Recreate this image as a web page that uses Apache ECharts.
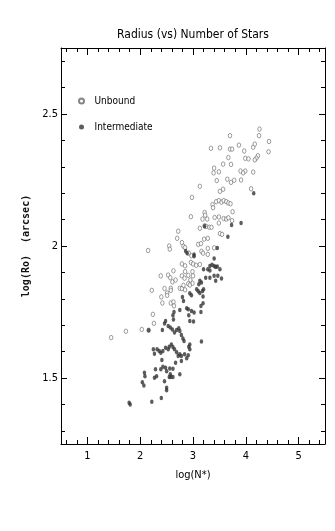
<!DOCTYPE html>
<html>
<head>
<meta charset="utf-8">
<script src="https://cdn.jsdelivr.net/npm/echarts@6/dist/echarts.min.js"></script>
<style>
  html, body { margin: 0; padding: 0; background: #fff; }
  #chart { width: 335px; height: 531px; }
</style>
</head>
<body>
<div id="chart"></div>
<script>
// log(N*), log(Ro) pairs
const unbound = [
  [3.70,2.418],[4.26,2.443],[4.25,2.418],[3.34,2.370],[3.51,2.372],[3.70,2.367],[3.74,2.367],[3.87,2.382],
  [3.97,2.360],[4.14,2.374],[4.17,2.386],[4.44,2.396],[4.43,2.357],[4.23,2.342],[4.20,2.333],[4.17,2.326],
  [3.99,2.332],[4.05,2.330],[3.67,2.335],[3.57,2.310],[3.72,2.309],[3.40,2.295],[3.49,2.281],[3.39,2.277],
  [3.90,2.284],[3.99,2.284],[3.95,2.277],[4.14,2.280],[3.45,2.248],[3.65,2.253],[3.72,2.241],[3.78,2.249],
  [3.91,2.250],[3.13,2.226],[3.51,2.207],[3.57,2.215],[4.10,2.217],[2.98,2.184],[3.37,2.157],[3.38,2.145],
  [3.44,2.168],[3.49,2.172],[3.54,2.166],[3.58,2.172],[3.63,2.168],[3.67,2.163],[3.71,2.160],[3.75,2.130],
  [2.96,2.111],[3.22,2.127],[3.23,2.117],[3.18,2.102],[3.27,2.102],[3.41,2.108],[3.49,2.110],[3.58,2.104],
  [3.63,2.102],[3.67,2.107],[3.74,2.096],[3.13,2.067],[3.22,2.077],[3.25,2.074],[3.31,2.071],[3.35,2.071],
  [3.49,2.087],[2.72,2.056],[3.51,2.047],[3.55,2.044],[2.70,2.029],[2.79,2.013],[3.10,2.006],[3.15,2.009],
  [3.21,2.026],[3.28,2.029],[3.40,1.993],[3.28,1.991],[2.15,1.983],[2.55,2.000],[2.56,1.988],[2.82,1.999],
  [2.85,1.994],[2.92,1.973],[2.97,1.963],[3.16,1.980],[3.19,1.973],[3.28,1.968],[2.79,1.932],[2.85,1.925],
  [2.96,1.938],[3.00,1.932],[3.06,1.927],[3.13,1.930],[2.63,1.906],[2.39,1.887],[2.53,1.890],[2.57,1.880],
  [2.61,1.864],[2.67,1.871],[2.79,1.887],[2.85,1.903],[2.84,1.878],[2.91,1.889],[2.95,1.871],[2.99,1.859],
  [2.99,1.903],[3.00,1.887],[2.22,1.832],[2.46,1.839],[2.40,1.807],[2.42,1.784],[2.51,1.822],[2.51,1.813],
  [2.58,1.840],[2.58,1.832],[2.75,1.840],[2.79,1.839],[2.82,1.851],[2.85,1.834],[2.91,1.857],[2.94,1.852],
  [2.58,1.784],[2.63,1.788],[2.64,1.773],[2.24,1.741],[2.26,1.707],[1.73,1.677],[1.45,1.653],[2.03,1.684],
  [2.16,1.681]
];

const intermediate = [
  [4.15,2.200],[3.73,2.080],[3.91,2.087],[3.66,2.035],[3.46,1.992],[3.40,1.953],[2.86,1.981],[3.02,1.968],
  [3.02,1.961],[3.32,1.924],[3.36,1.929],[3.40,1.924],[3.43,1.920],[3.22,2.075],[3.20,1.912],[3.28,1.912],
  [3.32,1.907],[3.46,1.922],[3.51,1.912],[3.40,1.887],[3.47,1.887],[3.43,1.868],[3.54,1.877],[3.24,1.880],
  [3.32,1.880],[3.13,1.868],[3.16,1.862],[3.11,1.855],[3.07,1.836],[3.10,1.829],[3.13,1.822],[3.18,1.830],
  [3.20,1.836],[2.94,1.821],[2.97,1.813],[2.80,1.807],[2.82,1.792],[2.75,1.758],[2.88,1.764],[2.91,1.760],
  [2.97,1.754],[3.02,1.748],[2.92,1.738],[2.94,1.716],[3.01,1.714],[3.15,1.750],[3.19,1.783],[2.64,1.750],
  [2.62,1.738],[2.63,1.722],[2.48,1.716],[2.46,1.706],[2.53,1.697],[2.42,1.682],[2.57,1.691],[2.61,1.684],
  [2.65,1.672],[2.69,1.682],[2.73,1.688],[2.75,1.678],[2.78,1.663],[2.81,1.650],[2.83,1.640],[2.94,1.627],
  [2.92,1.618],[3.16,1.638],[2.16,1.681],[2.25,1.609],[2.27,1.592],[2.32,1.609],[2.36,1.602],[2.39,1.596],
  [2.43,1.602],[2.48,1.615],[2.53,1.609],[2.55,1.618],[2.59,1.627],[2.62,1.617],[2.65,1.609],[2.69,1.598],
  [2.72,1.583],[2.75,1.590],[2.78,1.583],[2.84,1.590],[2.88,1.575],[2.94,1.609],[2.91,1.586],[2.29,1.533],
  [2.41,1.568],[2.43,1.543],[2.39,1.533],[2.48,1.539],[2.50,1.526],[2.56,1.536],[2.62,1.535],[2.57,1.514],
  [2.67,1.558],[2.78,1.564],[2.75,1.514],[2.27,1.501],[2.31,1.507],[2.08,1.520],[2.09,1.507],[2.04,1.484],
  [2.07,1.472],[2.46,1.488],[2.50,1.463],[2.55,1.504],[2.58,1.504],[2.62,1.504],[1.79,1.406],[1.81,1.400],
  [2.22,1.410],[2.40,1.424],[2.50,1.454],[3.19,1.809],[3.15,1.773],[2.89,1.973]
];

const xMajor = [1, 2, 3, 4, 5];
const xMinor = [0.6, 0.8, 1.2, 1.4, 1.6, 1.8, 2.2, 2.4, 2.6, 2.8, 3.2, 3.4, 3.6, 3.8, 4.2, 4.4, 4.6, 4.8, 5.2, 5.4];
const yMajor = [1.5, 2, 2.5];
const yMinor = [1.3, 1.4, 1.6, 1.7, 1.8, 1.9, 2.1, 2.2, 2.3, 2.4, 2.6, 2.7];

const FONT = '"Liberation Sans Narrow", "DejaVu Sans Condensed", sans-serif';
const xRange = { min: 0.5, max: 5.5 };
const yRange = { min: 1.25, max: 2.75 };

// one axis per side and per tick size: major ticks carry the line/labels, minor ones just ticks
function xAx(pos, ticks, len, main) {
  return Object.assign({
    type: 'value', position: pos, gridIndex: 0,
    axisLine: { show: main, onZero: false, lineStyle: { color: '#000', width: 1 } },
    axisTick: { show: true, inside: true, length: len, customValues: ticks, lineStyle: { color: '#000' } },
    axisLabel: { show: main && pos === 'bottom', customValues: ticks, margin: 7,
                 color: '#000', fontFamily: FONT, fontSize: 11 },
    splitLine: { show: false }
  }, xRange);
}
function yAx(pos, ticks, len, main) {
  return Object.assign({
    type: 'value', position: pos, gridIndex: 0,
    axisLine: { show: main, onZero: false, lineStyle: { color: '#000', width: 1 } },
    axisTick: { show: true, inside: true, length: len, customValues: ticks, lineStyle: { color: '#000' } },
    axisLabel: { show: main && pos === 'left', customValues: ticks, margin: 3,
                 color: '#000', fontFamily: FONT, fontSize: 11 },
    splitLine: { show: false }
  }, yRange);
}

const xAxes = [
  xAx('bottom', xMajor, 7, true),
  xAx('bottom', xMinor, 4, false),
  xAx('top', xMajor, 7, true),
  xAx('top', xMinor, 4, false)
];
Object.assign(xAxes[0], {
  name: 'log(N*)', nameLocation: 'middle', nameGap: 26,
  nameTextStyle: { color: '#000', fontFamily: FONT, fontSize: 11 }
});

const yAxes = [
  yAx('left', yMajor, 6, true),
  yAx('left', yMinor, 4, false),
  yAx('right', yMajor, 6, true),
  yAx('right', yMinor, 4, false)
];
Object.assign(yAxes[0], {
  name: 'log(Ro)  (arcsec)', nameLocation: 'middle', nameGap: 23,
  nameTextStyle: { color: '#111', fontFamily: '"DejaVu Sans Mono", monospace', fontSize: 10, fontWeight: 'bold' }
});

const chart = echarts.init(document.getElementById('chart'), null, { renderer: 'canvas' });
chart.setOption({
  animation: false,
  backgroundColor: '#fff',
  title: {
    text: 'Radius (vs) Number of Stars',
    left: 193, top: 29, padding: 0, textAlign: 'center',
    textStyle: { color: '#000', fontFamily: FONT, fontSize: 12, fontWeight: 'normal' }
  },
  legend: {
    orient: 'vertical', left: 78, top: 96, padding: 0,
    itemWidth: 16, itemHeight: 5, itemGap: 16,
    textStyle: { color: '#000', fontFamily: FONT, fontSize: 10 },
    data: ['Unbound', 'Intermediate']
  },
  grid: { left: 61, top: 48, width: 264, height: 396 },
  xAxis: xAxes,
  yAxis: yAxes,
  series: [
    {
      name: 'Unbound', type: 'scatter', xAxisIndex: 0, yAxisIndex: 0,
      symbol: 'circle', symbolSize: [3.5, 4.5],
      itemStyle: { color: '#fff', borderColor: '#666', borderWidth: 0.8 },
      data: unbound
    },
    {
      name: 'Intermediate', type: 'scatter', xAxisIndex: 0, yAxisIndex: 0,
      symbol: 'circle', symbolSize: [3.5, 4.5],
      itemStyle: { color: '#333' },
      data: intermediate
    }
  ]
});
</script>
</body>
</html>
